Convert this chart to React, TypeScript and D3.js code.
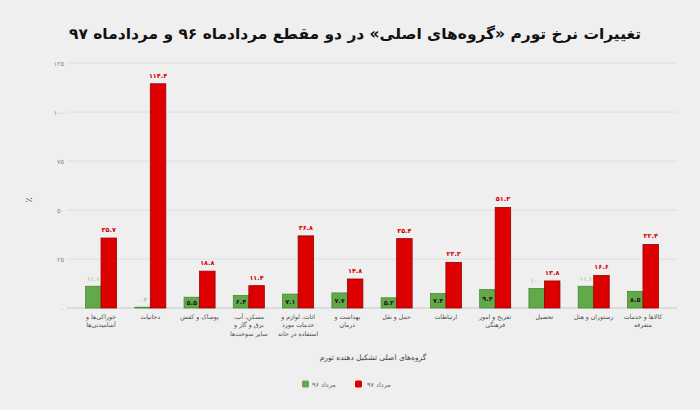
import React from 'react';
import * as d3 from 'd3';

const title = 'تغییرات نرخ تورم «گروه‌های اصلی» در دو مقطع مردادماه ۹۶ و مردادماه ۹۷';
const xTitle = 'گروه‌های اصلی تشکیل دهنده تورم';
const yTitle = '٪';
const seriesNames = ['مرداد ۹۶', 'مرداد ۹۷'];

const categories = [
  'خوراکی‌ها و آشامیدنی‌ها',
  'دخانیات',
  'پوشاک و کفش',
  'مسکن، آب، برق و گاز و سایر سوخت‌ها',
  'اثاث، لوازم و خدمات مورد استفاده در خانه',
  'بهداشت و درمان',
  'حمل و نقل',
  'ارتباطات',
  'تفریح و امور فرهنگی',
  'تحصیل',
  'رستوران و هتل',
  'کالاها و خدمات متفرقه',
];
const categoryLines = [
  ['خوراکی‌ها و', 'آشامیدنی‌ها'],
  ['دخانیات'],
  ['پوشاک و کفش'],
  ['مسکن، آب،', 'برق و گاز و', 'سایر سوخت‌ها'],
  ['اثاث، لوازم و', 'خدمات مورد', 'استفاده در خانه'],
  ['بهداشت و', 'درمان'],
  ['حمل و نقل'],
  ['ارتباطات'],
  ['تفریح و امور', 'فرهنگی'],
  ['تحصیل'],
  ['رستوران و هتل'],
  ['کالاها و خدمات', 'متفرقه'],
];
const mordad96 = [11.1, 0.4, 5.5, 6.4, 7.1, 7.7, 5.2, 7.4, 9.4, 10.0, 11.1, 8.5];
const mordad97 = [35.7, 114.4, 18.8, 11.4, 36.8, 14.8, 35.4, 23.3, 51.3, 13.8, 16.6, 32.4];
const yTicks = [0, 25, 50, 75, 100, 125];

const fa = (s: string) => s.replace(/[0-9]/g, (d) => '۰۱۲۳۴۵۶۷۸۹'[+d]);
const FONT = "'DejaVu Sans', sans-serif";

export default function App() {
  const W = 700, H = 410;
  const y = d3.scaleLinear().domain([0, 125]).range([308, 63]);
  const x0 = d3.scaleBand<string>().domain(categories).range([76.4, 667.6]).paddingInner(0.37).paddingOuter(0.185);
  const x1 = d3.scaleBand<string>().domain(['96', '97']).range([0, x0.bandwidth()]);
  const green = '#62a94a', greenStroke = '#4b8a37';
  const red = '#dc0000', redStroke = '#9a0000';

  return (
    <svg width={W} height={H} style={{ position: 'absolute', left: 0, top: 0 }} fontFamily={FONT}>
      <rect x={0} y={0} width={W} height={H} fill="#efefef" />
      <text x={355} y={39} textAnchor="middle" fontSize={15} fontWeight="bold" fill="#111" direction="rtl" textLength={572} lengthAdjust="spacingAndGlyphs">{title}</text>
      {yTicks.map((t) => (
        <g key={t}>
          <line x1={67} x2={677} y1={y(t)} y2={y(t)} stroke={t === 0 ? '#c8c8c8' : '#dedede'} strokeWidth={1} />
          <text x={64} y={y(t) + 2.5} textAnchor="end" fontSize={6.5} fill="#8a8a8a">{fa(String(t))}</text>
        </g>
      ))}
      <text transform="translate(32,200) rotate(-90)" textAnchor="middle" fontSize={10} fill="#555">{yTitle}</text>
      {categories.map((c, i) => {
        const bx = x0(c)!;
        const g = mordad96[i], r = mordad97[i];
        const gx = bx + x1('96')!, rx = bx + x1('97')!;
        const bw = x1.bandwidth();
        const inside = g < 10 && y(0) - y(g) > 7;
        return (
          <g key={c}>
            <rect x={gx} y={y(g)} width={bw} height={y(0) - y(g)} fill={green} stroke={greenStroke} strokeWidth={0.8} />
            <rect x={rx} y={y(r)} width={bw} height={y(0) - y(r)} fill={red} stroke={redStroke} strokeWidth={0.8} />
            {inside ? (
              <text x={gx + bw / 2} y={(y(g) + y(0)) / 2 + 2.5} textAnchor="middle" fontSize={6.5} fontWeight="bold" fill="#1a1a1a">{fa(g.toFixed(1))}</text>
            ) : (
              <text x={gx + bw / 2} y={y(g) - 5} textAnchor="middle" fontSize={6.5} fill="#8fc07e">{fa(g.toFixed(1))}</text>
            )}
            <text x={rx + bw / 2} y={y(r) - 6} textAnchor="middle" fontSize={6.5} fontWeight="bold" fill="#d40000">{fa(r.toFixed(1))}</text>
            {categoryLines[i].map((ln, k) => (
              <text key={k} x={bx + x0.bandwidth() / 2} y={319 + k * 8.3} textAnchor="middle" fontSize={6.2} fill="#4a4a4a" direction="rtl">{ln}</text>
            ))}
          </g>
        );
      })}
      <text x={373} y={360} textAnchor="middle" fontSize={7.5} fill="#444" direction="rtl">{xTitle}</text>
      <rect x={302} y={380.5} width={7} height={7} rx={1.5} fill={green} />
      <text x={312} y={386.5} textAnchor="start" fontSize={6.5} fill="#666">{seriesNames[0]}</text>
      <rect x={355} y={380.5} width={7} height={7} rx={1.5} fill={red} />
      <text x={367} y={386.5} textAnchor="start" fontSize={6.5} fill="#666">{seriesNames[1]}</text>
    </svg>
  );
}
